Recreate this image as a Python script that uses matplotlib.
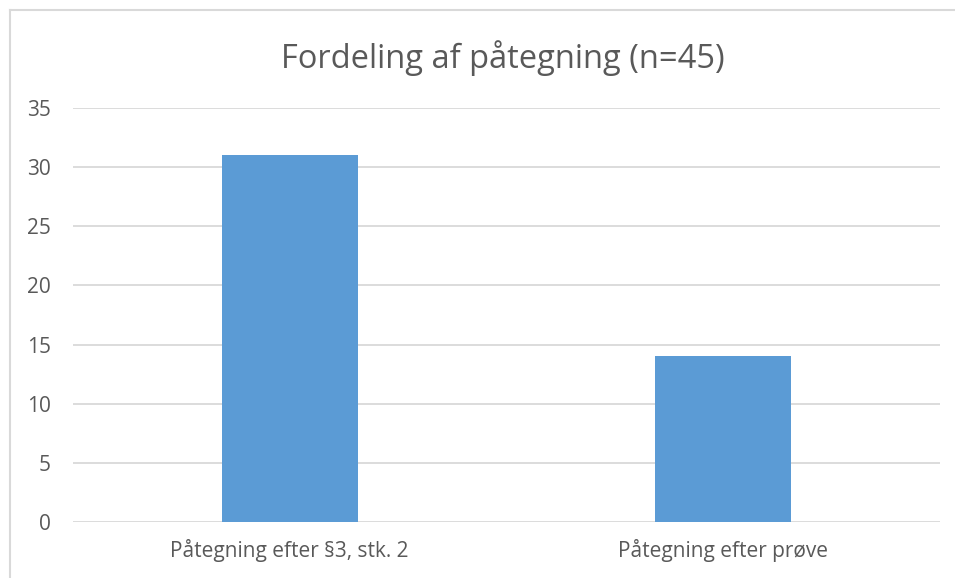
import matplotlib
matplotlib.use("Agg")
import matplotlib.pyplot as plt
from matplotlib.lines import Line2D

categories = ["Påtegning efter §3, stk. 2", "Påtegning efter prøve"]
values = [31, 14]
yticks = [0, 5, 10, 15, 20, 25, 30, 35]
title = "Fordeling af påtegning (n=45)"

plt.rcParams['font.family'] = ['Open Sans', 'DejaVu Sans']
txt = "#595959"

fig = plt.figure(figsize=(9.55, 5.78), dpi=100)
ax = fig.add_axes([73/955, 1-522/578, (940-73)/955, (522-108)/578])
ax.bar(range(len(categories)), values, width=0.314, color="#5B9BD5", zorder=3)
ax.set_xlim(-0.5, len(categories)-0.5)
ax.set_ylim(0, 35)
ax.set_yticks(yticks)
ax.set_xticks(range(len(categories)))
ax.set_xticklabels(categories)
ax.grid(axis='y', color="#D9D9D9", linewidth=1.3, zorder=0)
for s in ax.spines.values():
    s.set_visible(False)
ax.tick_params(axis='both', length=0, labelsize=15, colors=txt)
ax.tick_params(axis='y', pad=16)
ax.tick_params(axis='x', pad=12)
fig.text(503/955, 1-58/578, title, ha='center', va='center', fontsize=23.5, color=txt)

# chart area border (top and left visible)
fig.add_artist(Line2D([9.5/955, 9.5/955], [0, 1-9.5/578], color="#D9D9D9", linewidth=1.5, transform=fig.transFigure))
fig.add_artist(Line2D([9.5/955, 1], [1-9.5/578, 1-9.5/578], color="#D9D9D9", linewidth=1.5, transform=fig.transFigure))

fig.savefig("out.png", dpi=100)
